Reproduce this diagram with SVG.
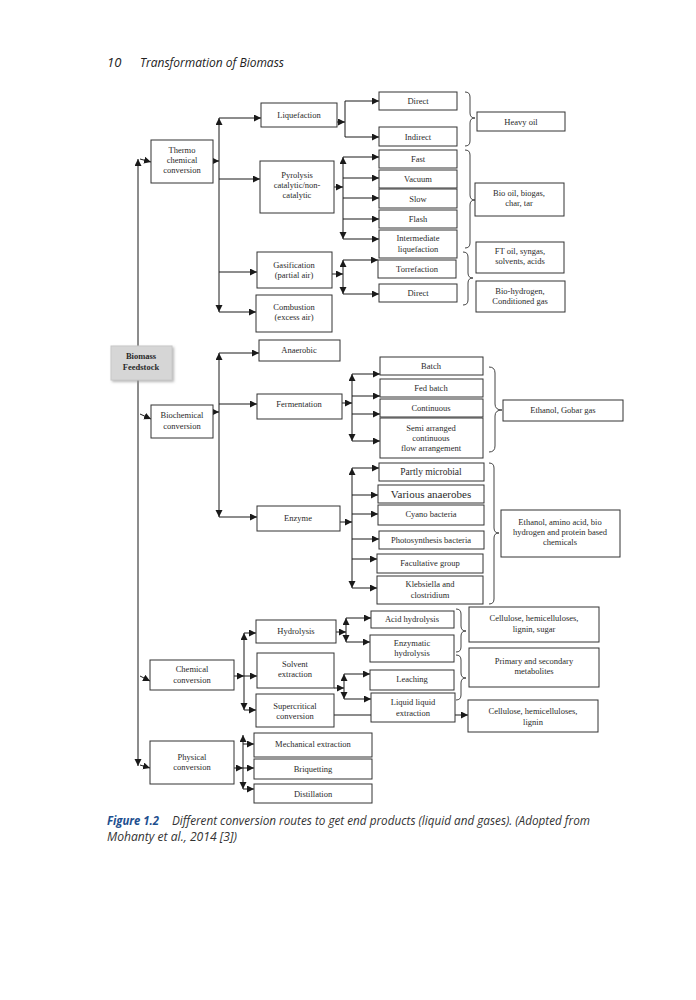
<svg xmlns="http://www.w3.org/2000/svg" width="696" height="1000" viewBox="0 0 696 1000">
<defs>
<marker id="ah" markerUnits="userSpaceOnUse" markerWidth="8" markerHeight="8" refX="7" refY="3.5" orient="auto-start-reverse"><path d="M0,0 L7,3.5 L0,7 z" fill="#1a1a1a"/></marker>
<filter id="sh" x="-10%" y="-10%" width="130%" height="130%"><feDropShadow dx="1.5" dy="1.5" stdDeviation="0.8" flood-color="#999" flood-opacity="0.7"/></filter>
</defs>
<style>
rect{fill:#fff;stroke:#333;stroke-width:1}
text{font-family:"Liberation Serif","Times New Roman",serif;font-size:8.5px;fill:#2a2a2a;text-anchor:middle}
.c line,.c path{stroke:#1a1a1a;stroke-width:1;fill:none}
.a{marker-end:url(#ah)}
.b{marker-start:url(#ah);marker-end:url(#ah)}
.br{stroke:#444;stroke-width:1;fill:none}
.hd{font-family:"Open Sans","Noto Sans",sans-serif;font-style:italic;font-size:13px;text-anchor:start;fill:#222}
.cap{font-family:"Open Sans","Noto Sans",sans-serif;font-style:italic;font-size:12.5px;text-anchor:start;fill:#333}
</style>
<rect x="0" y="0" width="696" height="1000" style="fill:#fff;stroke:none"/>
<text class="hd" x="107" y="67">10</text>
<text class="hd" x="140" y="67" textLength="144" lengthAdjust="spacingAndGlyphs">Transformation of Biomass</text>

<g class="c" id="connectors">
<!-- left trunk -->
<line class="b" x1="138" y1="159" x2="138" y2="766"/>
<line class="a" x1="140" y1="159" x2="151" y2="162"/>
<line class="a" x1="140" y1="414" x2="151" y2="419"/>
<line class="a" x1="140" y1="676" x2="150" y2="681"/>
<line class="a" x1="140" y1="765" x2="150" y2="768"/>
<!-- thermo -->
<line class="a" x1="207" y1="161" x2="219" y2="161"/>
<line class="b" x1="219" y1="118" x2="219" y2="312"/>
<line class="a" x1="219" y1="118" x2="261" y2="118"/>
<line class="a" x1="219" y1="179" x2="260" y2="179"/>
<line class="a" x1="219" y1="272" x2="257" y2="272"/>
<line class="a" x1="219" y1="312" x2="256" y2="312"/>
<!-- liquefaction -->
<line class="a" x1="337" y1="122" x2="345" y2="122"/>
<line x1="345" y1="101" x2="345" y2="137"/>
<line class="a" x1="345" y1="101" x2="379" y2="101"/>
<line class="a" x1="345" y1="137" x2="379" y2="137"/>
<!-- pyrolysis -->
<line class="a" x1="334" y1="187" x2="343" y2="187"/>
<line class="b" x1="343" y1="157" x2="343" y2="239"/>
<line class="a" x1="343" y1="157" x2="379" y2="157"/>
<line class="a" x1="343" y1="178" x2="379" y2="178"/>
<line class="a" x1="343" y1="198" x2="379" y2="198"/>
<line class="a" x1="343" y1="219" x2="379" y2="219"/>
<line class="a" x1="343" y1="239" x2="379" y2="239"/>
<!-- gasification -->
<line class="a" x1="332" y1="274" x2="343" y2="274"/>
<line class="b" x1="343" y1="260" x2="343" y2="294"/>
<line class="a" x1="343" y1="260" x2="378" y2="260"/>
<line class="a" x1="343" y1="294" x2="379" y2="294"/>
<!-- biochemical -->
<line class="a" x1="207" y1="412" x2="219" y2="412"/>
<line class="b" x1="219" y1="353" x2="219" y2="517"/>
<line class="a" x1="219" y1="353" x2="259" y2="353"/>
<line class="a" x1="219" y1="404" x2="257" y2="404"/>
<line class="a" x1="219" y1="517" x2="257" y2="517"/>
<!-- fermentation -->
<line class="a" x1="342" y1="403" x2="352" y2="403"/>
<line class="b" x1="352" y1="374" x2="352" y2="441"/>
<line class="a" x1="352" y1="374" x2="380" y2="374"/>
<line class="a" x1="352" y1="396" x2="380" y2="396"/>
<line class="a" x1="352" y1="414" x2="380" y2="414"/>
<line class="a" x1="352" y1="441" x2="380" y2="441"/>
<!-- enzyme -->
<line class="a" x1="340" y1="522" x2="352" y2="522"/>
<line class="b" x1="352" y1="468" x2="352" y2="588"/>
<line class="a" x1="352" y1="468" x2="379" y2="468"/>
<line class="a" x1="352" y1="495" x2="378" y2="495"/>
<line class="a" x1="352" y1="514" x2="378" y2="514"/>
<line class="a" x1="352" y1="539" x2="379" y2="539"/>
<line class="a" x1="352" y1="559" x2="377" y2="559"/>
<line class="a" x1="352" y1="588" x2="377" y2="588"/>
<!-- chemical -->
<line class="a" x1="234" y1="676" x2="244" y2="676"/>
<line class="b" x1="244" y1="633" x2="244" y2="710"/>
<line class="a" x1="244" y1="633" x2="256" y2="633"/>
<line class="a" x1="244" y1="676" x2="257" y2="676"/>
<line class="a" x1="244" y1="710" x2="256" y2="710"/>
<!-- hydrolysis -->
<line class="a" x1="336" y1="632" x2="346" y2="632"/>
<line class="b" x1="346" y1="618" x2="346" y2="642"/>
<line class="a" x1="346" y1="618" x2="371" y2="618"/>
<line class="a" x1="346" y1="642" x2="370" y2="642"/>
<!-- solvent -->
<line class="a" x1="334" y1="688" x2="344" y2="688"/>
<line class="b" x1="344" y1="674" x2="344" y2="699"/>
<line class="a" x1="344" y1="674" x2="370" y2="674"/>
<line class="a" x1="344" y1="699" x2="371" y2="699"/>
<!-- supercritical -->
<line x1="334" y1="715" x2="371" y2="715"/>
<line class="a" x1="455" y1="715" x2="468" y2="715"/>
<!-- physical -->
<line class="a" x1="234" y1="768" x2="243" y2="768"/>
<line class="b" x1="243" y1="735" x2="243" y2="789"/>
<line class="a" x1="243" y1="744" x2="254" y2="744"/>
<line class="a" x1="243" y1="768" x2="254" y2="768"/>
<line class="a" x1="243" y1="789" x2="254" y2="789"/>
</g>

<g id="braces">
<path class="br" d="M465,92 Q470,92 470,97 L470,113 Q470,118 475,118 Q470,118 470,123 L470,141 Q470,146 465,146"/>
<path class="br" d="M465,150 Q470,150 470,155 L470,195 Q470,200 475,200 Q470,200 470,205 L470,243 Q470,248 465,248"/>
<path class="br" d="M463,252 Q468,252 468,257 L468,273 Q468,278 473,278 Q468,278 468,283 L468,300 Q468,305 463,305"/>
<path class="br" d="M489,367 Q495,367 495,373 L495,404 Q495,410 502,410 Q495,410 495,416 L495,446 Q495,452 489,452"/>
<path class="br" d="M489,463 Q494,463 494,468 L494,528 Q494,533 499,533 Q494,533 494,538 L494,599 Q494,604 489,604"/>
<path class="br" d="M456,609 Q461,609 461,614 L461,626 Q461,631 466,631 Q461,631 461,636 L461,647 Q461,652 456,652"/>
<path class="br" d="M456,655 Q461,655 461,660 L461,673 Q461,678 466,678 Q461,678 461,683 L461,695 Q461,700 456,700"/>
</g>

<g id="biomass"><rect x="111" y="346" width="61" height="34" style="fill:#d6d6d6;stroke:#c8c8c8" filter="url(#sh)"/><text x="141" y="359" font-weight="bold">Biomass</text><text x="141" y="370" font-weight="bold">Feedstock</text></g>

<g id="thermo"><rect x="151" y="140" width="62" height="43"/><text x="182" y="153">Thermo</text><text x="182" y="163">chemical</text><text x="182" y="173">conversion</text></g>
<g id="liquefaction"><rect x="261" y="103" width="76" height="24"/><text x="299" y="118">Liquefaction</text></g>
<g id="pyrolysis"><rect x="260" y="161" width="74" height="52"/><text x="297" y="178">Pyrolysis</text><text x="297" y="188">catalytic/non-</text><text x="297" y="198">catalytic</text></g>
<g id="gasification"><rect x="257" y="252" width="75" height="36"/><text x="294" y="268">Gasification</text><text x="294" y="278">(partial air)</text></g>
<g id="combustion"><rect x="256" y="295" width="76" height="37"/><text x="294" y="310">Combustion</text><text x="294" y="320">(excess air)</text></g>
<g id="direct1"><rect x="379" y="92" width="78" height="18"/><text x="418" y="104">Direct</text></g>
<g id="indirect"><rect x="379" y="127" width="78" height="19"/><text x="418" y="140">Indirect</text></g>
<g id="fast"><rect x="379" y="150" width="78" height="18"/><text x="418" y="162">Fast</text></g>
<g id="vacuum"><rect x="379" y="170" width="78" height="18"/><text x="418" y="182">Vacuum</text></g>
<g id="slow"><rect x="379" y="189" width="78" height="19"/><text x="418" y="202">Slow</text></g>
<g id="flash"><rect x="379" y="210" width="78" height="18"/><text x="418" y="222">Flash</text></g>
<g id="intermediate"><rect x="379" y="230" width="78" height="28"/><text x="418" y="241">Intermediate</text><text x="418" y="252">liquefaction</text></g>
<g id="torrefaction"><rect x="378" y="260" width="78" height="18"/><text x="417" y="272">Torrefaction</text></g>
<g id="direct2"><rect x="379" y="284" width="78" height="18"/><text x="418" y="296">Direct</text></g>
<g id="heavyoil"><rect x="477" y="112" width="88" height="19"/><text x="521" y="125">Heavy oil</text></g>
<g id="biooil"><rect x="475" y="183" width="89" height="33"/><text x="519" y="196">Bio oil, biogas,</text><text x="519" y="206">char, tar</text></g>
<g id="ftoil"><rect x="476" y="242" width="88" height="31"/><text x="520" y="254">FT oil, syngas,</text><text x="520" y="264">solvents, acids</text></g>
<g id="biohydrogen"><rect x="476" y="281" width="89" height="31"/><text x="520" y="294">Bio-hydrogen,</text><text x="520" y="304">Conditioned gas</text></g>

<g id="biochemical"><rect x="151" y="405" width="62" height="33"/><text x="182" y="418">Biochemical</text><text x="182" y="429">conversion</text></g>
<g id="anaerobic"><rect x="259" y="340" width="81" height="21"/><text x="299" y="353">Anaerobic</text></g>
<g id="fermentation"><rect x="257" y="394" width="85" height="25"/><text x="299" y="407">Fermentation</text></g>
<g id="enzyme"><rect x="257" y="506" width="83" height="25"/><text x="298" y="521">Enzyme</text></g>
<g id="batch"><rect x="380" y="357" width="103" height="18"/><text x="431" y="369">Batch</text></g>
<g id="fedbatch"><rect x="380" y="379" width="103" height="18"/><text x="431" y="391">Fed batch</text></g>
<g id="continuous"><rect x="380" y="399" width="103" height="18"/><text x="431" y="411">Continuous</text></g>
<g id="semi"><rect x="380" y="418" width="103" height="40"/><text x="431" y="431">Semi arranged</text><text x="431" y="441">continuous</text><text x="431" y="451">flow arrangement</text></g>
<g id="ethanolgobar"><rect x="503" y="400" width="120" height="21"/><text x="563" y="413">Ethanol, Gobar gas</text></g>
<g id="partlymicrobial"><rect x="379" y="463" width="105" height="18"/><text x="431" y="475" style="font-size:9.5px">Partly microbial</text></g>
<g id="variousanaerobes"><rect x="378" y="485" width="106" height="18"/><text x="431" y="498" style="font-size:11px">Various anaerobes</text></g>
<g id="cyano"><rect x="378" y="505" width="106" height="20"/><text x="431" y="517">Cyano bacteria</text></g>
<g id="photosynthesis"><rect x="379" y="531" width="105" height="18"/><text x="431" y="543">Photosynthesis bacteria</text></g>
<g id="facultative"><rect x="377" y="554" width="106" height="19"/><text x="430" y="566">Facultative group</text></g>
<g id="klebsiella"><rect x="377" y="576" width="106" height="28"/><text x="430" y="587">Klebsiella and</text><text x="430" y="598">clostridium</text></g>
<g id="ethanolamino"><rect x="501" y="510" width="119" height="47"/><text x="560" y="525">Ethanol, amino acid, bio</text><text x="560" y="535">hydrogen and protein based</text><text x="560" y="545">chemicals</text></g>

<g id="chemical"><rect x="150" y="660" width="84" height="30"/><text x="192" y="672">Chemical</text><text x="192" y="683">conversion</text></g>
<g id="hydrolysis"><rect x="256" y="620" width="80" height="23"/><text x="296" y="634">Hydrolysis</text></g>
<g id="solvent"><rect x="257" y="653" width="77" height="35"/><text x="295" y="667">Solvent</text><text x="295" y="677">extraction</text></g>
<g id="supercritical"><rect x="256" y="694" width="78" height="33"/><text x="295" y="709">Supercritical</text><text x="295" y="719">conversion</text></g>
<g id="acidhydrolysis"><rect x="371" y="611" width="83" height="17"/><text x="412" y="622">Acid hydrolysis</text></g>
<g id="enzymatic"><rect x="370" y="635" width="84" height="27"/><text x="412" y="646">Enzymatic</text><text x="412" y="656">hydrolysis</text></g>
<g id="leaching"><rect x="370" y="670" width="84" height="20"/><text x="412" y="682">Leaching</text></g>
<g id="liquidliquid"><rect x="371" y="693" width="84" height="29"/><text x="413" y="705">Liquid liquid</text><text x="413" y="716">extraction</text></g>
<g id="cellulose1"><rect x="469" y="607" width="130" height="35"/><text x="534" y="621">Cellulose, hemicelluloses,</text><text x="534" y="632">lignin, sugar</text></g>
<g id="primary"><rect x="469" y="648" width="130" height="39"/><text x="534" y="664">Primary and secondary</text><text x="534" y="674">metabolites</text></g>
<g id="cellulose2"><rect x="468" y="700" width="130" height="32"/><text x="533" y="714">Cellulose, hemicelluloses,</text><text x="533" y="725">lignin</text></g>

<g id="physical"><rect x="150" y="741" width="84" height="43"/><text x="192" y="760">Physical</text><text x="192" y="770">conversion</text></g>
<g id="mechanical"><rect x="254" y="733" width="118" height="24"/><text x="313" y="747">Mechanical extraction</text></g>
<g id="briquetting"><rect x="254" y="759" width="118" height="20"/><text x="313" y="772">Briquetting</text></g>
<g id="distillation"><rect x="254" y="784" width="118" height="19"/><text x="313" y="797">Distillation</text></g>

<text class="cap" x="107" y="825" style="font-weight:bold;fill:#1d4f8f" textLength="52" lengthAdjust="spacingAndGlyphs">Figure 1.2</text>
<text class="cap" x="172" y="825" textLength="418" lengthAdjust="spacingAndGlyphs">Different conversion routes to get end products (liquid and gases). (Adopted from</text>
<text class="cap" x="107" y="841" textLength="130" lengthAdjust="spacingAndGlyphs">Mohanty et al., 2014 [3])</text>
</svg>
